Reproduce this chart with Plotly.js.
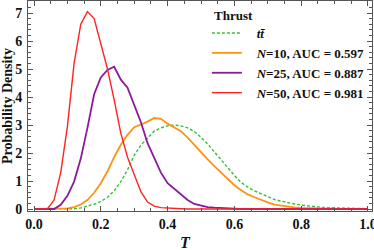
<!DOCTYPE html>
<html>
<head>
<meta charset="utf-8">
<script src="https://cdn.plot.ly/plotly-3.0.1.min.js"></script>
<style>html,body{margin:0;padding:0;background:#fff;}#chart{width:374px;height:250px;}</style>
</head>
<body>
<div id="chart"></div>
<script>
// bin centres (T)
const thrustT = [0.00,0.02,0.04,0.06,0.08,0.10,0.12,0.14,0.16,0.18,
  0.20,0.22,0.24,0.26,0.28,0.30,0.32,0.34,0.36,0.38,
  0.40,0.42,0.44,0.46,0.48,0.50,0.52,0.54,0.56,0.58,
  0.60,0.62,0.64,0.66,0.68,0.70,0.72,0.74,0.76,0.78,
  0.80,0.82,0.84,0.86,0.88,0.90,0.92,0.94,0.96,0.98,1.00];

const ttbar = [0,0,0,0,0,0,0.01,0.04,0.10,0.17,
  0.27,0.42,0.65,0.98,1.40,1.92,2.28,2.55,2.78,2.90,
  2.97,3.00,2.97,2.90,2.77,2.56,2.32,2.04,1.75,1.47,
  1.20,0.95,0.78,0.65,0.54,0.44,0.34,0.28,0.22,0.18,
  0.14,0.11,0.08,0.06,0.05,0.04,0.03,0.02,0.01,0.01,0.01];

const n10 = [0,0,0,0,0,0.02,0.07,0.16,0.32,0.58,
  0.92,1.35,1.85,2.30,2.65,2.92,3.02,3.12,3.25,3.22,
  3.05,2.92,2.78,2.55,2.28,2.02,1.77,1.53,1.30,1.06,
  0.85,0.67,0.52,0.42,0.32,0.24,0.16,0.12,0.08,0.06,
  0.04,0.03,0.02,0.01,0.01,0,0,0,0,0,0];

const n25 = [0,0,0,0,0.15,0.47,0.98,1.80,2.90,4.10,
  4.70,4.97,5.08,4.62,4.33,3.70,3.10,2.35,1.80,1.30,
  0.92,0.72,0.52,0.32,0.18,0.12,0.07,0.05,0.03,0.02,
  0.01,0,0,0,0,0,0,0,0,0,
  0,0,0,0,0,0,0,0,0,0,0];

const n50 = [0,0,0,0.32,1.30,2.95,5.20,6.60,7.05,6.80,
  5.90,5.00,3.90,2.70,1.85,1.20,0.62,0.25,0.10,0.05,
  0.03,0.02,0.01,0,0,0,0,0,0,0,
  0,0,0,0,0,0,0,0,0,0,
  0,0,0,0,0,0,0,0,0,0,0];

const legendTitle = "Thrust";
const seriesNames = [
  "\u2002\u00A0<i>t</i><i>t\u0304</i>",
  "\u2002\u00A0<i>N</i>=10, AUC = 0.597",
  "\u2002\u00A0<i>N</i>=25, AUC = 0.887",
  "\u2002\u00A0<i>N</i>=50, AUC = 0.981"
];
const xTickVals = [0,0.2,0.4,0.6,0.8,1.0];
const xTickText = ["0.0","0.2","0.4","0.6","0.8","1.0"];
const yTickVals = [0,1,2,3,4,5,6,7];

const FONT = "Liberation Serif, Times New Roman, serif";

const traces = [
  {x: thrustT, y: ttbar, name: seriesNames[0], mode: "lines",
   line: {color: "#33c233", width: 1.4, dash: "3px,2px"}},
  {x: thrustT, y: n10, name: seriesNames[1], mode: "lines",
   line: {color: "#ff9214", width: 1.8}},
  {x: thrustT, y: n25, name: seriesNames[2], mode: "lines",
   line: {color: "#8a1a9c", width: 1.8}},
  {x: thrustT, y: n50, name: seriesNames[3], mode: "lines",
   line: {color: "#ff2222", width: 1.4}}
];

const axisCommon = {
  showline: true, linecolor: "#555", linewidth: 1,
  mirror: "ticks", ticks: "inside", ticklen: 5, tickwidth: 1, tickcolor: "#555",
  showgrid: false, zeroline: false, ticklabeloverflow: "allow",
  tickfont: {family: FONT, size: 14, color: "#111", weight: "bold"}
};

const layout = {
  width: 374, height: 250,
  margin: {l: 28, r: 2, t: 1, b: 39},
  paper_bgcolor: "#fff", plot_bgcolor: "#fff",
  font: {family: FONT, size: 13, color: "#111", weight: "bold"},
  showlegend: true,
  legend: {
    x: 0.52, y: 0.919, xanchor: "left", yanchor: "top",
    bgcolor: "rgba(255,255,255,0)", borderwidth: 0,
    font: {family: FONT, size: 13, color: "#111", weight: "bold"},
    tracegroupgap: 0
  },
  xaxis: Object.assign({}, axisCommon, {
    range: [-0.018, 1.012],
    tickvals: xTickVals, ticktext: xTickText,
    minor: {dtick: 0.05, tick0: 0, ticks: "inside", ticklen: 3, tickcolor: "#555", showgrid: false}
  }),
  yaxis: Object.assign({}, axisCommon, {
    range: [-0.071, 7.43],
    tickvals: yTickVals,
    ticklabelstandoff: 2,
    minor: {dtick: 0.2, tick0: 0, ticks: "inside", ticklen: 3, tickcolor: "#555", showgrid: false},
    title: {text: "Probability Density", standoff: 4,
            font: {family: FONT, size: 14, color: "#111", weight: "bold"}}
  }),
  annotations: [
    {text: "<i>T</i>", xref: "x", yref: "paper", x: 0.455, y: 0, yshift: -31,
     showarrow: false, xanchor: "center", yanchor: "middle",
     font: {family: FONT, size: 16, color: "#111", weight: "bold"}},
    {text: legendTitle, xref: "paper", yref: "paper", x: 0.535, y: 1, yshift: -14,
     showarrow: false, xanchor: "left", yanchor: "middle",
     font: {family: FONT, size: 13, color: "#111", weight: "bold"}}
  ]
};

Plotly.newPlot("chart", traces, layout, {displayModeBar: false, staticPlot: true});
</script>
</body>
</html>
